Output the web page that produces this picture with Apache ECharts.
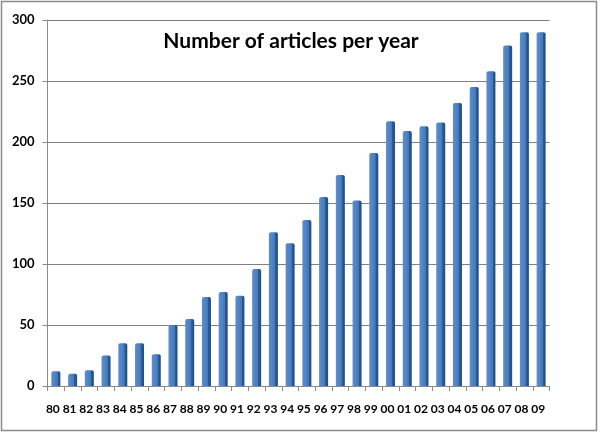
<!DOCTYPE html>
<html>
<head>
<meta charset="utf-8">
<script src="https://cdn.jsdelivr.net/npm/echarts@6/dist/echarts.min.js"></script>
<style>
  html, body { margin: 0; padding: 0; background: #fff; }
  #chart { width: 600px; height: 433px; }
</style>
</head>
<body>
<div id="chart"></div>
<script>
const years = ['80', '81', '82', '83', '84', '85', '86', '87', '88', '89',
  '90', '91', '92', '93', '94', '95', '96', '97', '98', '99',
  '00', '01', '02', '03', '04', '05', '06', '07', '08', '09'];
const articles = [12, 10, 13, 25, 35, 35, 26, 50, 55, 73,
  77, 74, 96, 126, 117, 136, 155, 173, 152, 191,
  217, 209, 213, 216, 232, 245, 258, 279, 290, 290];
const yTicks = [0, 50, 100, 150, 200, 250, 300];

const chart = echarts.init(document.getElementById('chart'));

// bar look: lit front face, darker side strip on the right
const barColor = new echarts.graphic.LinearGradient(0, 0, 1, 0, [
  { offset: 0, color: '#5a8ed0' },
  { offset: 0.35, color: '#4f84c6' },
  { offset: 0.68, color: '#4478b8' },
  { offset: 0.7, color: '#2e5b90' },
  { offset: 1, color: '#264d7c' }
]);

chart.setOption({
  backgroundColor: '#fff',
  animation: false,
  textStyle: { fontFamily: 'Lato' },
  graphic: [{
    type: 'rect',
    shape: { x: 1.5, y: 1.5, width: 595, height: 429 },
    style: { fill: 'none', stroke: '#8a8a8a', lineWidth: 1.5 },
    silent: true
  }],
  title: {
    text: 'Number of articles per year',
    left: 286,
    top: 26,
    textAlign: 'center',
    textStyle: { fontFamily: 'Lato', fontWeight: 'bold', fontSize: 21, color: '#000' }
  },
  grid: { left: 47.5, right: 50.5, top: 20, bottom: 47 },
  xAxis: {
    type: 'category',
    data: years,
    axisLine: { lineStyle: { color: '#8a8a8a', width: 1 } },
    axisTick: { show: true, length: 5, lineStyle: { color: '#8a8a8a' } },
    axisLabel: {
      interval: 0,
      margin: 17,
      padding: [0, 6, 0, 0],
      color: '#000',
      fontWeight: 'bold',
      fontSize: 12
    }
  },
  yAxis: {
    type: 'value',
    min: 0,
    max: 300,
    interval: 50,
    axisLine: { show: true, lineStyle: { color: '#8a8a8a', width: 1 } },
    axisTick: { show: true, length: 5, lineStyle: { color: '#8a8a8a' } },
    axisLabel: {
      margin: 13,
      color: '#000',
      fontWeight: 'bold',
      fontSize: 13,
      formatter: v => yTicks.includes(v) ? String(v) : ''
    },
    splitLine: { show: true, lineStyle: { color: '#808080', width: 1 } }
  },
  series: [{
    type: 'bar',
    data: articles,
    barWidth: 9,
    itemStyle: {
      color: barColor,
      borderRadius: [2, 2, 0, 0]
    }
  }]
});
</script>
</body>
</html>
